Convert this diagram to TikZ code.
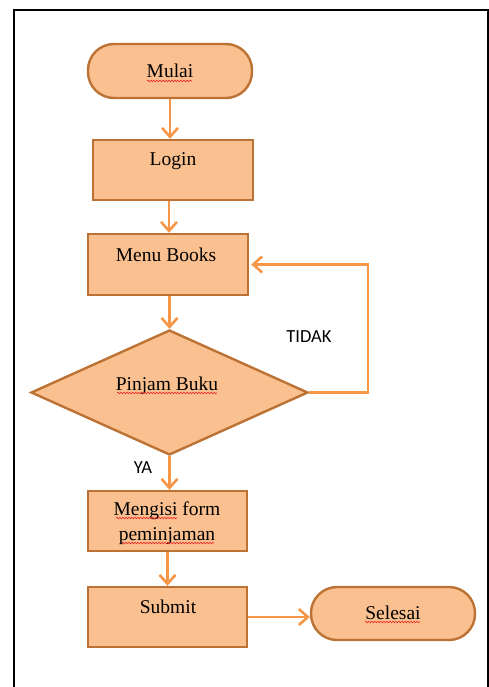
\documentclass[tikz,border=0pt]{standalone}
\usepackage{fontspec}
\setmainfont{Liberation Serif}
\newfontfamily\labelfont{Carlito}
\usetikzlibrary{arrows.meta,shapes.geometric,decorations.pathmorphing}

\definecolor{boxfill}{RGB}{250,192,143}
\definecolor{boxline}{RGB}{188,114,52}
\definecolor{flow}{RGB}{247,150,70}
\definecolor{spell}{RGB}{230,40,40}

\tikzset{
  procbox/.style={draw=boxline, fill=boxfill, line width=2.4pt, rectangle,
    inner sep=0pt},
  terminal/.style={procbox, rounded corners=26pt},
  decision/.style={draw=boxline, fill=boxfill, line width=2.4pt, diamond,
    inner sep=0pt},
  txt/.style={anchor=base, inner sep=0pt, font=\fontsize{19.5}{25}\selectfont},
  sidetxt/.style={anchor=base, inner sep=0pt,
    font=\labelfont\fontsize{18.5}{22}\selectfont},
  flowarrow/.style={draw=flow, line width=2.8pt,
    -{Straight Barb[length=9pt,width=16pt,line width=2.6pt]}},
  frameline/.style={draw=black, line width=2.6pt},
  squiggle/.style={draw=spell, line width=0.6pt, decorate,
    decoration={snake, amplitude=0.8pt, segment length=3pt}}
}

\begin{document}
\begin{tikzpicture}[x=1pt,y=-1pt]
  \useasboundingbox (0,0) rectangle (489,687);

  % outer frame
  \draw[frameline] (14,690) -- (14,10) -- (488,10) -- (488,690);

  % flowchart shapes
  \node[terminal, minimum width=164pt, minimum height=54pt] (mulai) at (170,71) {};
  \node[procbox, minimum width=160pt, minimum height=60pt] (login) at (173,170) {};
  \node[procbox, minimum width=160pt, minimum height=61pt] (menu) at (168,264.5) {};
  \node[decision, minimum width=277pt, minimum height=125pt] (pinjam) at (169.5,392.5) {};
  \node[procbox, minimum width=159pt, minimum height=60pt] (mengisi) at (167.5,521) {};
  \node[procbox, minimum width=159pt, minimum height=60pt] (submit) at (167.5,617) {};
  \node[terminal, minimum width=164pt, minimum height=53pt] (selesai) at (393,613.5) {};

  % texts
  \node[txt] (tmulai) at (170,78) {Mulai};
  \node[txt] (tlogin) at (173,166) {Login};
  \node[txt] (tmenu) at (166,261) {Menu Books};
  \node[txt] (tpinjam) at (167,390) {Pinjam Buku};
  \node[txt] (tmengisi1) at (167,515) {Mengisi form};
  \node[txt] (tmengisi2) at (167,540) {peminjaman};
  \node[txt] (tsubmit) at (168,613) {Submit};
  \node[txt] (tselesai) at (393,619) {Selesai};
  \node[sidetxt] (tidak) at (309,342) {TIDAK};
  \node[sidetxt] (ya) at (143,473) {YA};

  % spelling marks under words
  \draw[squiggle] (147,81) -- (192,81);
  \draw[squiggle] (117,393) -- (217,393);
  \draw[squiggle] (116,518) -- (177,518);
  \draw[squiggle] (122,543) -- (214,543);
  \draw[squiggle] (365,622) -- (420,622);

  % connectors
  \coordinate (loopcorner) at (368,392.5);
  \draw[flowarrow] (mulai.south) -- (mulai.south |- login.north);
  \draw[flowarrow] ([xshift=-4pt]login.south) -- ([xshift=-4pt]login.south |- menu.north);
  \draw[flowarrow] (pinjam.north |- menu.south) -- (pinjam.north);
  \draw[flowarrow] (pinjam.east) -- (loopcorner) |- ([xshift=2pt]menu.east);
  \draw[flowarrow] (pinjam.south) -- (pinjam.south |- mengisi.north);
  \draw[flowarrow] (mengisi.south) -- (submit.north);
  \draw[flowarrow] (submit.east) -- (submit.east -| selesai.west);
\end{tikzpicture}
\end{document}
